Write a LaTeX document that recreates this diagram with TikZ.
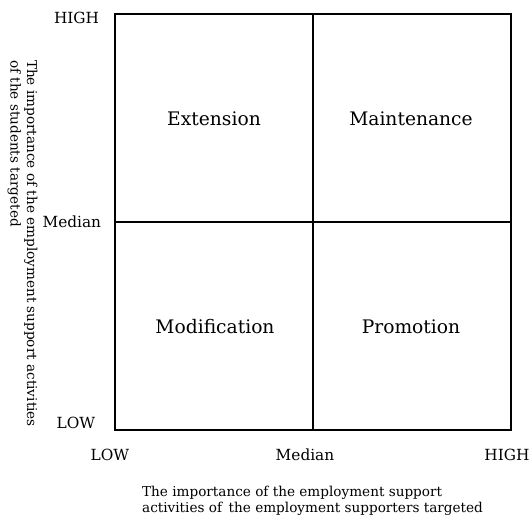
\documentclass[tikz,border=0pt]{standalone}
\usepackage{fontspec}
\setmainfont{DejaVu Serif}
\begin{document}
\begin{tikzpicture}[x=0.75pt, y=0.75pt, line width=2.2pt,
  tick/.style={font=\fontsize{11.5}{14}\selectfont},
  quad/.style={font=\fontsize{14}{16}\selectfont},
  axistitle/.style={font=\fontsize{10.2}{12.5}\selectfont, align=left, inner sep=0pt}]
\useasboundingbox (0,0) rectangle (529,519);

\coordinate (sw) at (115,89);
\coordinate (ne) at (511,505);
\coordinate (mb) at (313,89);
\coordinate (mt) at (313,505);
\coordinate (ml) at (115,297);
\coordinate (mr) at (511,297);

\draw (sw) rectangle (ne);
\draw (mb) -- (mt);
\draw (ml) -- (mr);

\foreach \y/\ytext/\yname/\xr in {501/HIGH/high/105, 297/Median/med/107, 96/LOW/low/101}
\node [tick, anchor=east] (y\yname) at (\xr,\y) {\ytext};

\foreach \x/\xtext/\xname in {110/LOW/low, 305/Median/med, 507/HIGH/high}
\node [tick] (x\xname) at (\x,64) {\xtext};

\node [quad] (ext) at (214,400) {Extension};
\node [quad] (mnt) at (411,400) {Maintenance};
\node [quad] (mod) at (215,192) {Modification};
\node [quad] (pro) at (411,192) {Promotion};

\node [axistitle, rotate=-90] (ytitle) at (22.5,275.5)
  {The importance of the employment support activities\\ of the students targeted};
\node [axistitle] (xtitle) at (312.5,18)
  {The importance of the employment support\\ activities of\, the employment supporters targeted};
\end{tikzpicture}
\end{document}
